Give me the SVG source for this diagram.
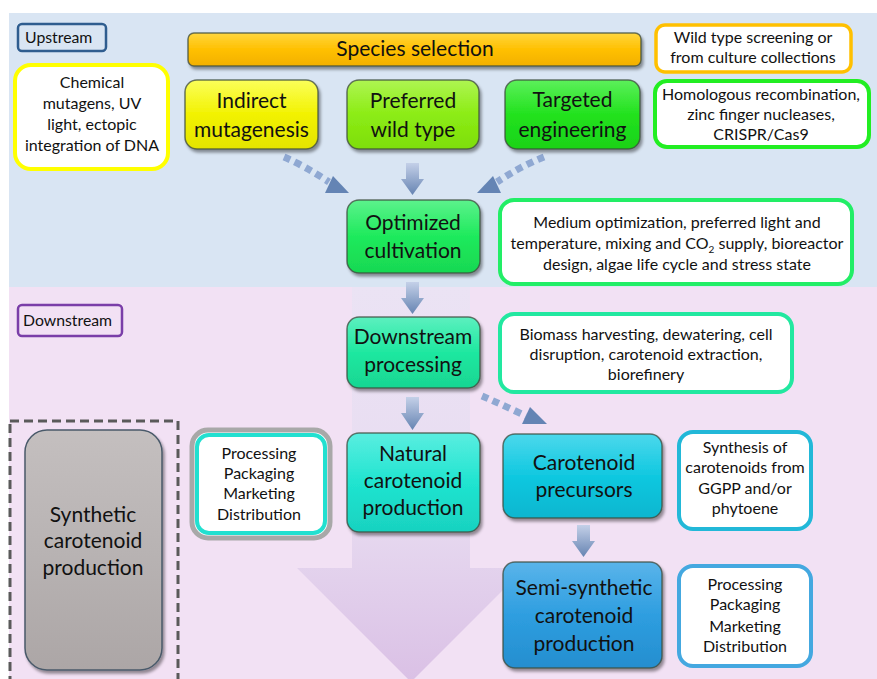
<svg xmlns="http://www.w3.org/2000/svg" width="877" height="679" viewBox="0 0 877 679">
<defs>
<style>
.t{font-family:Lato,"Liberation Sans",sans-serif;fill:#111;text-anchor:middle}
.big{font-size:21px}
.sm{font-size:16px}
.lbl{font-size:15.8px;text-anchor:start}
.node{stroke:#3c4a3c;stroke-opacity:.75;stroke-width:1.5}
.box{fill:#fff}
.dots{fill:none;stroke:#8fa8d2;stroke-width:7;stroke-dasharray:7 5}
.head{fill:#6484b4}
.blk{fill:url(#gArrow)}
</style>
<filter id="sh" x="-10%" y="-10%" width="130%" height="130%"><feDropShadow dx="2" dy="3" stdDeviation="1.8" flood-color="#000" flood-opacity="0.4"/></filter>
<linearGradient id="gArrow" x1="0" y1="0" x2="0" y2="1"><stop offset="0" stop-color="#c4d0e8"/><stop offset="1" stop-color="#6684b2"/></linearGradient>
<linearGradient id="gBig" x1="0" y1="0" x2="0" y2="1"><stop offset="0" stop-color="#ebe3f4"/><stop offset="0.55" stop-color="#e8dcf1"/><stop offset="1" stop-color="#dac0e5"/></linearGradient>
<linearGradient id="gOr" x1="0" y1="0" x2="0" y2="1"><stop offset="0" stop-color="#ffd640"/><stop offset="0.5" stop-color="#ffc000"/><stop offset="1" stop-color="#f2b000"/></linearGradient>
<linearGradient id="gY" x1="0" y1="0" x2="0" y2="1"><stop offset="0" stop-color="#fbff5a"/><stop offset="0.5" stop-color="#f2f200"/><stop offset="1" stop-color="#e4e400"/></linearGradient>
<linearGradient id="gYG" x1="0" y1="0" x2="0" y2="1"><stop offset="0" stop-color="#aef552"/><stop offset="0.5" stop-color="#8cec14"/><stop offset="1" stop-color="#7ede0c"/></linearGradient>
<linearGradient id="gG" x1="0" y1="0" x2="0" y2="1"><stop offset="0" stop-color="#5cf05a"/><stop offset="0.5" stop-color="#22e21e"/><stop offset="1" stop-color="#1ad218"/></linearGradient>
<linearGradient id="gOpt" x1="0" y1="0" x2="0" y2="1"><stop offset="0" stop-color="#5cf28c"/><stop offset="0.5" stop-color="#1eea5c"/><stop offset="1" stop-color="#18d852"/></linearGradient>
<linearGradient id="gDs" x1="0" y1="0" x2="0" y2="1"><stop offset="0" stop-color="#5cf0bf"/><stop offset="0.5" stop-color="#1ee8a0"/><stop offset="1" stop-color="#18d692"/></linearGradient>
<linearGradient id="gNat" x1="0" y1="0" x2="0" y2="1"><stop offset="0" stop-color="#5aeee0"/><stop offset="0.5" stop-color="#20e4d0"/><stop offset="1" stop-color="#18d2c0"/></linearGradient>
<linearGradient id="gPre" x1="0" y1="0" x2="0" y2="1"><stop offset="0" stop-color="#4cd8ec"/><stop offset="0.5" stop-color="#10c8e0"/><stop offset="1" stop-color="#0cb6cf"/></linearGradient>
<linearGradient id="gSemi" x1="0" y1="0" x2="0" y2="1"><stop offset="0" stop-color="#5ab4ea"/><stop offset="0.5" stop-color="#2e9ee0"/><stop offset="1" stop-color="#258ecf"/></linearGradient>
<linearGradient id="gGray" x1="0" y1="0" x2="0" y2="1"><stop offset="0" stop-color="#c4bfbf"/><stop offset="0.5" stop-color="#b8b3b3"/><stop offset="1" stop-color="#aca6a6"/></linearGradient>
</defs>

<g id="background">
<rect x="0" y="0" width="877" height="679" fill="#ffffff"/>
<rect x="9" y="13" width="868" height="274" fill="#d9e5f3"/>
<rect x="9" y="287" width="868" height="392" fill="#f2e1f4"/>
<path d="M352 287 H470 V568 H525 L411 682 L297 568 H352 Z" fill="url(#gBig)"/>
</g>

<g id="upstream-label"><rect x="18" y="24" width="88" height="27" rx="4" fill="none" stroke="#2f5d8f" stroke-width="2.5"/><text class="t lbl" x="25" y="43">Upstream</text></g>
<g id="downstream-label"><rect x="18" y="305" width="104" height="31" rx="4" fill="none" stroke="#7a3ea8" stroke-width="2.5"/><text class="t lbl" x="23" y="326">Downstream</text></g>

<g id="synthetic-frame"><rect x="10" y="421" width="168" height="272" fill="none" stroke="#5a5a5a" stroke-width="3" stroke-dasharray="9 5"/></g>

<g id="connectors">
<polygon class="blk" points="406,163 419,163 419,179 424,179 412.5,195 401,179 406,179"/>
<polygon class="blk" points="406,282 419,282 419,298 424,298 412.5,314 401,298 406,298"/>
<polygon class="blk" points="406,397 419,397 419,413 424,413 412.5,430 401,413 406,413"/>
<polygon class="blk" points="577,525 590,525 590,541 595,541 583.5,557 572,541 577,541"/>
<path class="dots" d="M284 157 Q305 166 329 182"/>
<polygon class="head" points="333,176 325,193 349,193"/>
<path class="dots" d="M544 157 Q521 166 497 182"/>
<polygon class="head" points="493,176 501,193 477,193"/>
<path class="dots" d="M482 396 Q503 405 526 416"/>
<polygon class="head" points="530,407 522,424 547,424"/>
</g>

<g id="species-selection"><rect class="node" x="188" y="33" width="453" height="33" rx="6" fill="url(#gOr)" filter="url(#sh)"/><text class="t big" x="415" y="56">Species selection</text></g>
<g id="indirect-mutagenesis"><rect class="node" x="185" y="80" width="133" height="69" rx="12" fill="url(#gY)" filter="url(#sh)"/><text class="t big" x="251.5" y="108">Indirect</text><text class="t big" x="251.5" y="137">mutagenesis</text></g>
<g id="preferred-wild-type"><rect class="node" x="347" y="80" width="132" height="69" rx="12" fill="url(#gYG)" filter="url(#sh)"/><text class="t big" x="413" y="108">Preferred</text><text class="t big" x="413" y="137">wild type</text></g>
<g id="targeted-engineering"><rect class="node" x="505" y="80" width="135" height="69" rx="12" fill="url(#gG)" filter="url(#sh)"/><text class="t big" x="572.5" y="107">Targeted</text><text class="t big" x="572.5" y="137">engineering</text></g>

<g id="chemical-mutagens"><rect class="box" x="15" y="65" width="153" height="104" rx="16" stroke="#ffff00" stroke-width="4"/><text class="t sm" x="92" y="88">Chemical</text><text class="t sm" x="92" y="109">mutagens, UV</text><text class="t sm" x="92" y="130">light, ectopic</text><text class="t sm" x="92" y="151">integration of DNA</text></g>
<g id="wild-type-screening"><rect class="box" x="656" y="25" width="195" height="47" rx="9" stroke="#ffc000" stroke-width="3.5"/><text class="t sm" x="753" y="43">Wild type screening or</text><text class="t sm" x="753" y="63">from culture collections</text></g>
<g id="homologous"><rect class="box" x="655" y="81" width="214" height="66" rx="12" stroke="#22ee22" stroke-width="4"/><text class="t sm" x="761" y="100">Homologous recombination,</text><text class="t sm" x="761" y="120">zinc finger nucleases,</text><text class="t sm" x="761" y="140">CRISPR/Cas9</text></g>

<g id="optimized-cultivation"><rect class="node" x="347" y="200" width="133" height="73" rx="12" fill="url(#gOpt)" filter="url(#sh)"/><text class="t big" x="413" y="230">Optimized</text><text class="t big" x="413" y="258">cultivation</text></g>
<g id="medium-optimization"><rect class="box" x="500" y="200" width="352" height="84" rx="14" stroke="#22ee66" stroke-width="4"/><text class="t sm" x="677" y="228">Medium optimization, preferred light and</text><text class="t sm" x="677" y="249">temperature, mixing and CO<tspan font-size="10" dy="4">2</tspan><tspan dy="-4"> supply, bioreactor</tspan></text><text class="t sm" x="677" y="270">design, algae life cycle and stress state</text></g>

<g id="downstream-processing"><rect class="node" x="347" y="317" width="133" height="71" rx="12" fill="url(#gDs)" filter="url(#sh)"/><text class="t big" x="413" y="344">Downstream</text><text class="t big" x="413" y="372">processing</text></g>
<g id="biomass-harvesting"><rect class="box" x="500" y="314" width="292" height="78" rx="14" stroke="#22e8a0" stroke-width="4"/><text class="t sm" x="646" y="340">Biomass harvesting, dewatering, cell</text><text class="t sm" x="646" y="360">disruption, carotenoid extraction,</text><text class="t sm" x="646" y="380">biorefinery</text></g>

<g id="synthetic-production"><rect x="25" y="430" width="137" height="240" rx="22" fill="url(#gGray)" stroke="#4a5a6a" stroke-width="1.5" filter="url(#sh)"/><text class="t big" x="93" y="522">Synthetic</text><text class="t big" x="93" y="548">carotenoid</text><text class="t big" x="93" y="575">production</text></g>
<g id="processing-left"><rect x="192" y="430" width="138" height="108" rx="16" fill="#fff" stroke="#a8a8a8" stroke-width="5"/><rect class="box" x="197" y="435" width="128" height="98" rx="12" stroke="#22e0d0" stroke-width="4"/><text class="t sm" x="259" y="459">Processing</text><text class="t sm" x="259" y="479">Packaging</text><text class="t sm" x="259" y="499">Marketing</text><text class="t sm" x="259" y="520">Distribution</text></g>

<g id="natural-production"><rect class="node" x="347" y="433" width="133" height="99" rx="12" fill="url(#gNat)" filter="url(#sh)"/><text class="t big" x="413" y="461">Natural</text><text class="t big" x="413" y="488">carotenoid</text><text class="t big" x="413" y="515">production</text></g>
<g id="carotenoid-precursors"><rect class="node" x="503" y="434" width="159" height="84" rx="12" fill="url(#gPre)" filter="url(#sh)"/><text class="t big" x="584" y="470">Carotenoid</text><text class="t big" x="584" y="497">precursors</text></g>
<g id="synthesis"><rect class="box" x="679" y="432" width="132" height="97" rx="14" stroke="#22b8d8" stroke-width="4"/><text class="t sm" x="745" y="453">Synthesis of</text><text class="t sm" x="745" y="473">carotenoids from</text><text class="t sm" x="745" y="494">GGPP and/or</text><text class="t sm" x="745" y="514">phytoene</text></g>
<g id="semi-synthetic"><rect class="node" x="503" y="562" width="159" height="106" rx="12" fill="url(#gSemi)" filter="url(#sh)"/><text class="t big" x="584" y="595">Semi-synthetic</text><text class="t big" x="584" y="623">carotenoid</text><text class="t big" x="584" y="651">production</text></g>
<g id="processing-right"><rect class="box" x="679" y="566" width="132" height="100" rx="14" stroke="#44a8e0" stroke-width="4"/><text class="t sm" x="745" y="590">Processing</text><text class="t sm" x="745" y="610">Packaging</text><text class="t sm" x="745" y="632">Marketing</text><text class="t sm" x="745" y="652">Distribution</text></g>
</svg>
